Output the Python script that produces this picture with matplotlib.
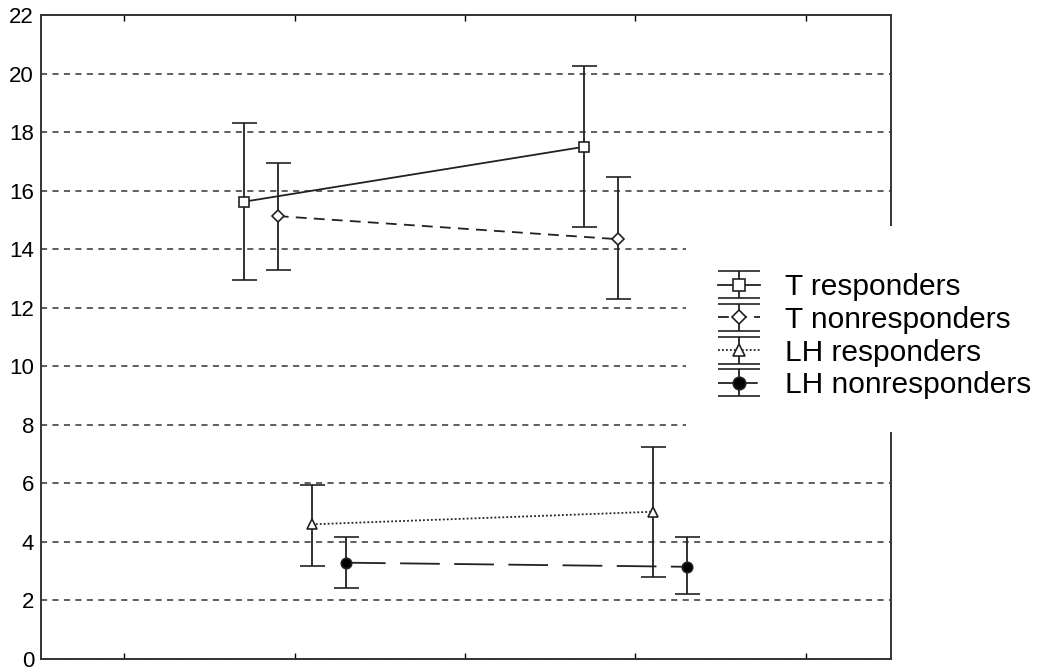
import numpy as np
import matplotlib.pyplot as plt
from matplotlib.patches import Rectangle
from matplotlib.legend_handler import HandlerErrorbar

plt.rcParams['font.family'] = ['Liberation Sans', 'DejaVu Sans']

# time points and the side-by-side offset of each group
time_points = [1, 3]
group_offsets = [-0.3, -0.1, 0.1, 0.3]
labels = ['T responders', 'T nonresponders', 'LH responders', 'LH nonresponders']

# means and error-bar ends
t_resp_mean = [15.62, 17.50]
t_resp_low = [12.95, 14.77]
t_resp_high = [18.32, 20.26]

t_non_mean = [15.13, 14.34]
t_non_low = [13.29, 12.29]
t_non_high = [16.93, 16.46]

lh_resp_mean = [4.60, 5.03]
lh_resp_low = [3.18, 2.81]
lh_resp_high = [5.94, 7.23]

lh_non_mean = [3.29, 3.15]
lh_non_low = [2.41, 2.22]
lh_non_high = [4.16, 4.16]

yticks = np.arange(0, 23, 2)
xticks = [0, 1, 2, 3, 4]

groups = [
    (t_resp_mean, t_resp_low, t_resp_high, 's', 'white', '-', 7.5),
    (t_non_mean, t_non_low, t_non_high, 'D', 'white', (0, (6, 4)), 6),
    (lh_resp_mean, lh_resp_low, lh_resp_high, '^', 'white', (0, (1, 1.2)), 7),
    (lh_non_mean, lh_non_low, lh_non_high, 'o', 'black', (0, (22, 8)), 7.5),
]

fig = plt.figure(figsize=(10.4, 6.71), dpi=100)
ax = fig.add_axes([41 / 1040, 1 - 659 / 671, (891 - 41) / 1040, (659 - 15) / 671])

handles = []
for (mean, low, high, mk, fc, ls, msize), off in zip(groups, group_offsets):
    mean = np.array(mean)
    x = np.array(time_points) + off
    yerr = [mean - np.array(low), np.array(high) - mean]
    style = dict(fmt=mk, linestyle=ls, color='#222222', mfc=fc, mec='#222222',
                 mew=1.2, lw=1.3, elinewidth=1.3, capthick=1.3)
    ax.errorbar(x, mean, yerr=yerr, ms=msize, capsize=9, zorder=3, **style)
    # proxy with wider caps, only for the legend
    proxy = ax.errorbar([np.nan], [np.nan], yerr=[[1], [1]], ms=msize + 1.5,
                        capsize=15, **style)
    handles.append(proxy)

ax.set_xlim(-0.49, 4.5)
ax.set_ylim(0, 22)
ax.set_yticks(yticks)
ax.set_xticks(xticks)
ax.set_xticklabels([])
ax.yaxis.grid(True, linestyle=(0, (4, 3.5)), color='#333333', linewidth=1.1)
ax.tick_params(axis='y', length=0, labelsize=16, pad=5)
ax.tick_params(axis='x', direction='in', length=4, top=True, width=1)
for sp in ax.spines.values():
    sp.set_linewidth(1.4)
    sp.set_color('#333333')

# white patch over the right edge behind the legend
fig.add_artist(Rectangle((686 / 1040, 1 - 432 / 671), 354 / 1040, 206 / 671,
                         transform=fig.transFigure, facecolor='white',
                         edgecolor='none', zorder=10))

leg = fig.legend(handles, labels, loc='upper left',
                 bbox_to_anchor=(718 / 1040, 1 - 273 / 671),
                 frameon=False, fontsize=21.5, labelspacing=0.16,
                 handlelength=1.4, handletextpad=0.84,
                 borderpad=0, borderaxespad=0,
                 handler_map={type(handles[0]): HandlerErrorbar(yerr_size=0.45)})
leg.set_zorder(11)

fig.savefig('out.png', dpi=100)
